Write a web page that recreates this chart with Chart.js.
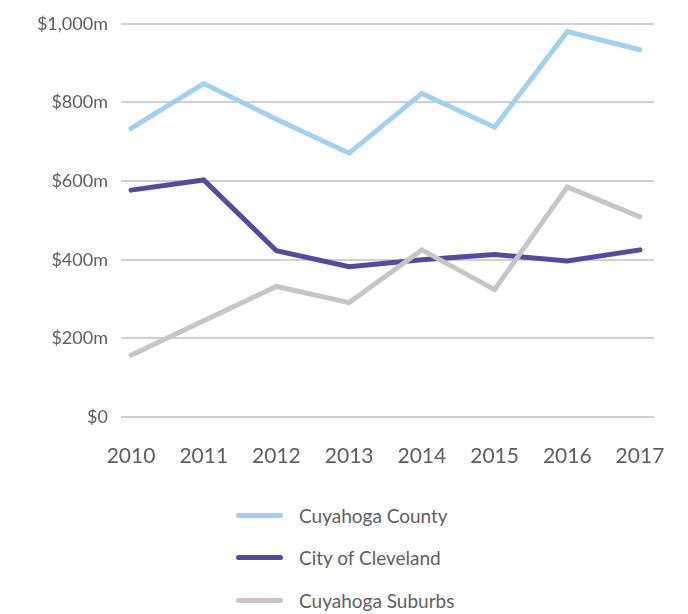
<!DOCTYPE html>
<html>
<head>
<meta charset="utf-8">
<script src="https://cdn.jsdelivr.net/npm/chart.js@4"></script>
<style>
    body { margin: 0; background: #fff; }
    #wrap { position: relative; width: 688px; height: 614px; }
    #box { position: absolute; left: 0; top: 0; width: 688px; height: 480px; }
    #legend { position: absolute; left: 236px; top: 494px; font-family: Lato, sans-serif; font-size: 19px; color: #5e5e5e; }
    .item { height: 42.5px; display: flex; align-items: center; }
    .swatch { width: 47px; height: 5px; border-radius: 3px; margin-right: 16px; }
</style>
</head>
<body>
<div id="wrap">
    <div id="box"><canvas id="lineChart"></canvas></div>
    <div id="legend"></div>
</div>
<script>
const years = [2010, 2011, 2012, 2013, 2014, 2015, 2016, 2017];
const countyValues = [734, 848, 757, 671, 823, 737, 980, 934];
const clevelandValues = [577, 603, 423, 382, 400, 413, 397, 425];
const suburbsValues = [157, 245, 332, 291, 425, 324, 585, 509];
const seriesNames = ['Cuyahoga County', 'City of Cleveland', 'Cuyahoga Suburbs'];
const seriesColors = ['#a2d1f0', '#574a9c', '#c9c5c5'];

function points(values) {
    return values.map((v, i) => ({ x: years[i], y: v }));
}

const seriesValues = [countyValues, clevelandValues, suburbsValues];
const drawOrder = [1, 2, 0];

document.addEventListener("DOMContentLoaded", function () {
    const ctx = document.getElementById('lineChart').getContext('2d');

    new Chart(ctx, {
        type: 'line',
        data: {
            datasets: seriesNames.map((name, i) => ({
                label: name,
                data: points(seriesValues[i]),
                borderColor: seriesColors[i],
                borderWidth: 5,
                borderCapStyle: 'round',
                pointRadius: 0,
                tension: 0,
                order: drawOrder[i]
            }))
        },
        options: {
            responsive: true,
            maintainAspectRatio: false,
            animation: false,
            layout: { padding: { top: 15, right: 34, left: 0, bottom: 0 } },
            plugins: { legend: { display: false }, tooltip: { enabled: false } },
            scales: {
                x: {
                    type: 'linear',
                    min: 2009.862,
                    max: 2017.193,
                    afterBuildTicks: scale => {
                        scale.ticks = years.map(y => ({ value: y }));
                    },
                    afterFit: scale => { scale.height = 63; },
                    grid: { display: false },
                    border: { display: false },
                    ticks: {
                        padding: 19,
                        autoSkip: false,
                        maxRotation: 0,
                        color: '#5e5e5e',
                        font: { family: 'Lato', size: 21 },
                        callback: v => String(v)
                    }
                },
                y: {
                    min: 0,
                    max: 1000,
                    afterFit: scale => { scale.width = 121; },
                    grid: { color: '#cfcfcf', lineWidth: 2, drawTicks: false },
                    border: { display: false },
                    ticks: {
                        stepSize: 200,
                        padding: 13,
                        color: '#5e5e5e',
                        font: { family: 'Lato', size: 18 },
                        callback: v => v === 0 ? '$0' : '$' + v.toLocaleString('en-US') + 'm'
                    }
                }
            }
        }
    });

    const legend = document.getElementById('legend');
    seriesNames.forEach((name, i) => {
        const item = document.createElement('div');
        item.className = 'item';
        item.innerHTML = '<span class="swatch" style="background:' + seriesColors[i] + '"></span>' + name;
        legend.appendChild(item);
    });
});
</script>
</body>
</html>
